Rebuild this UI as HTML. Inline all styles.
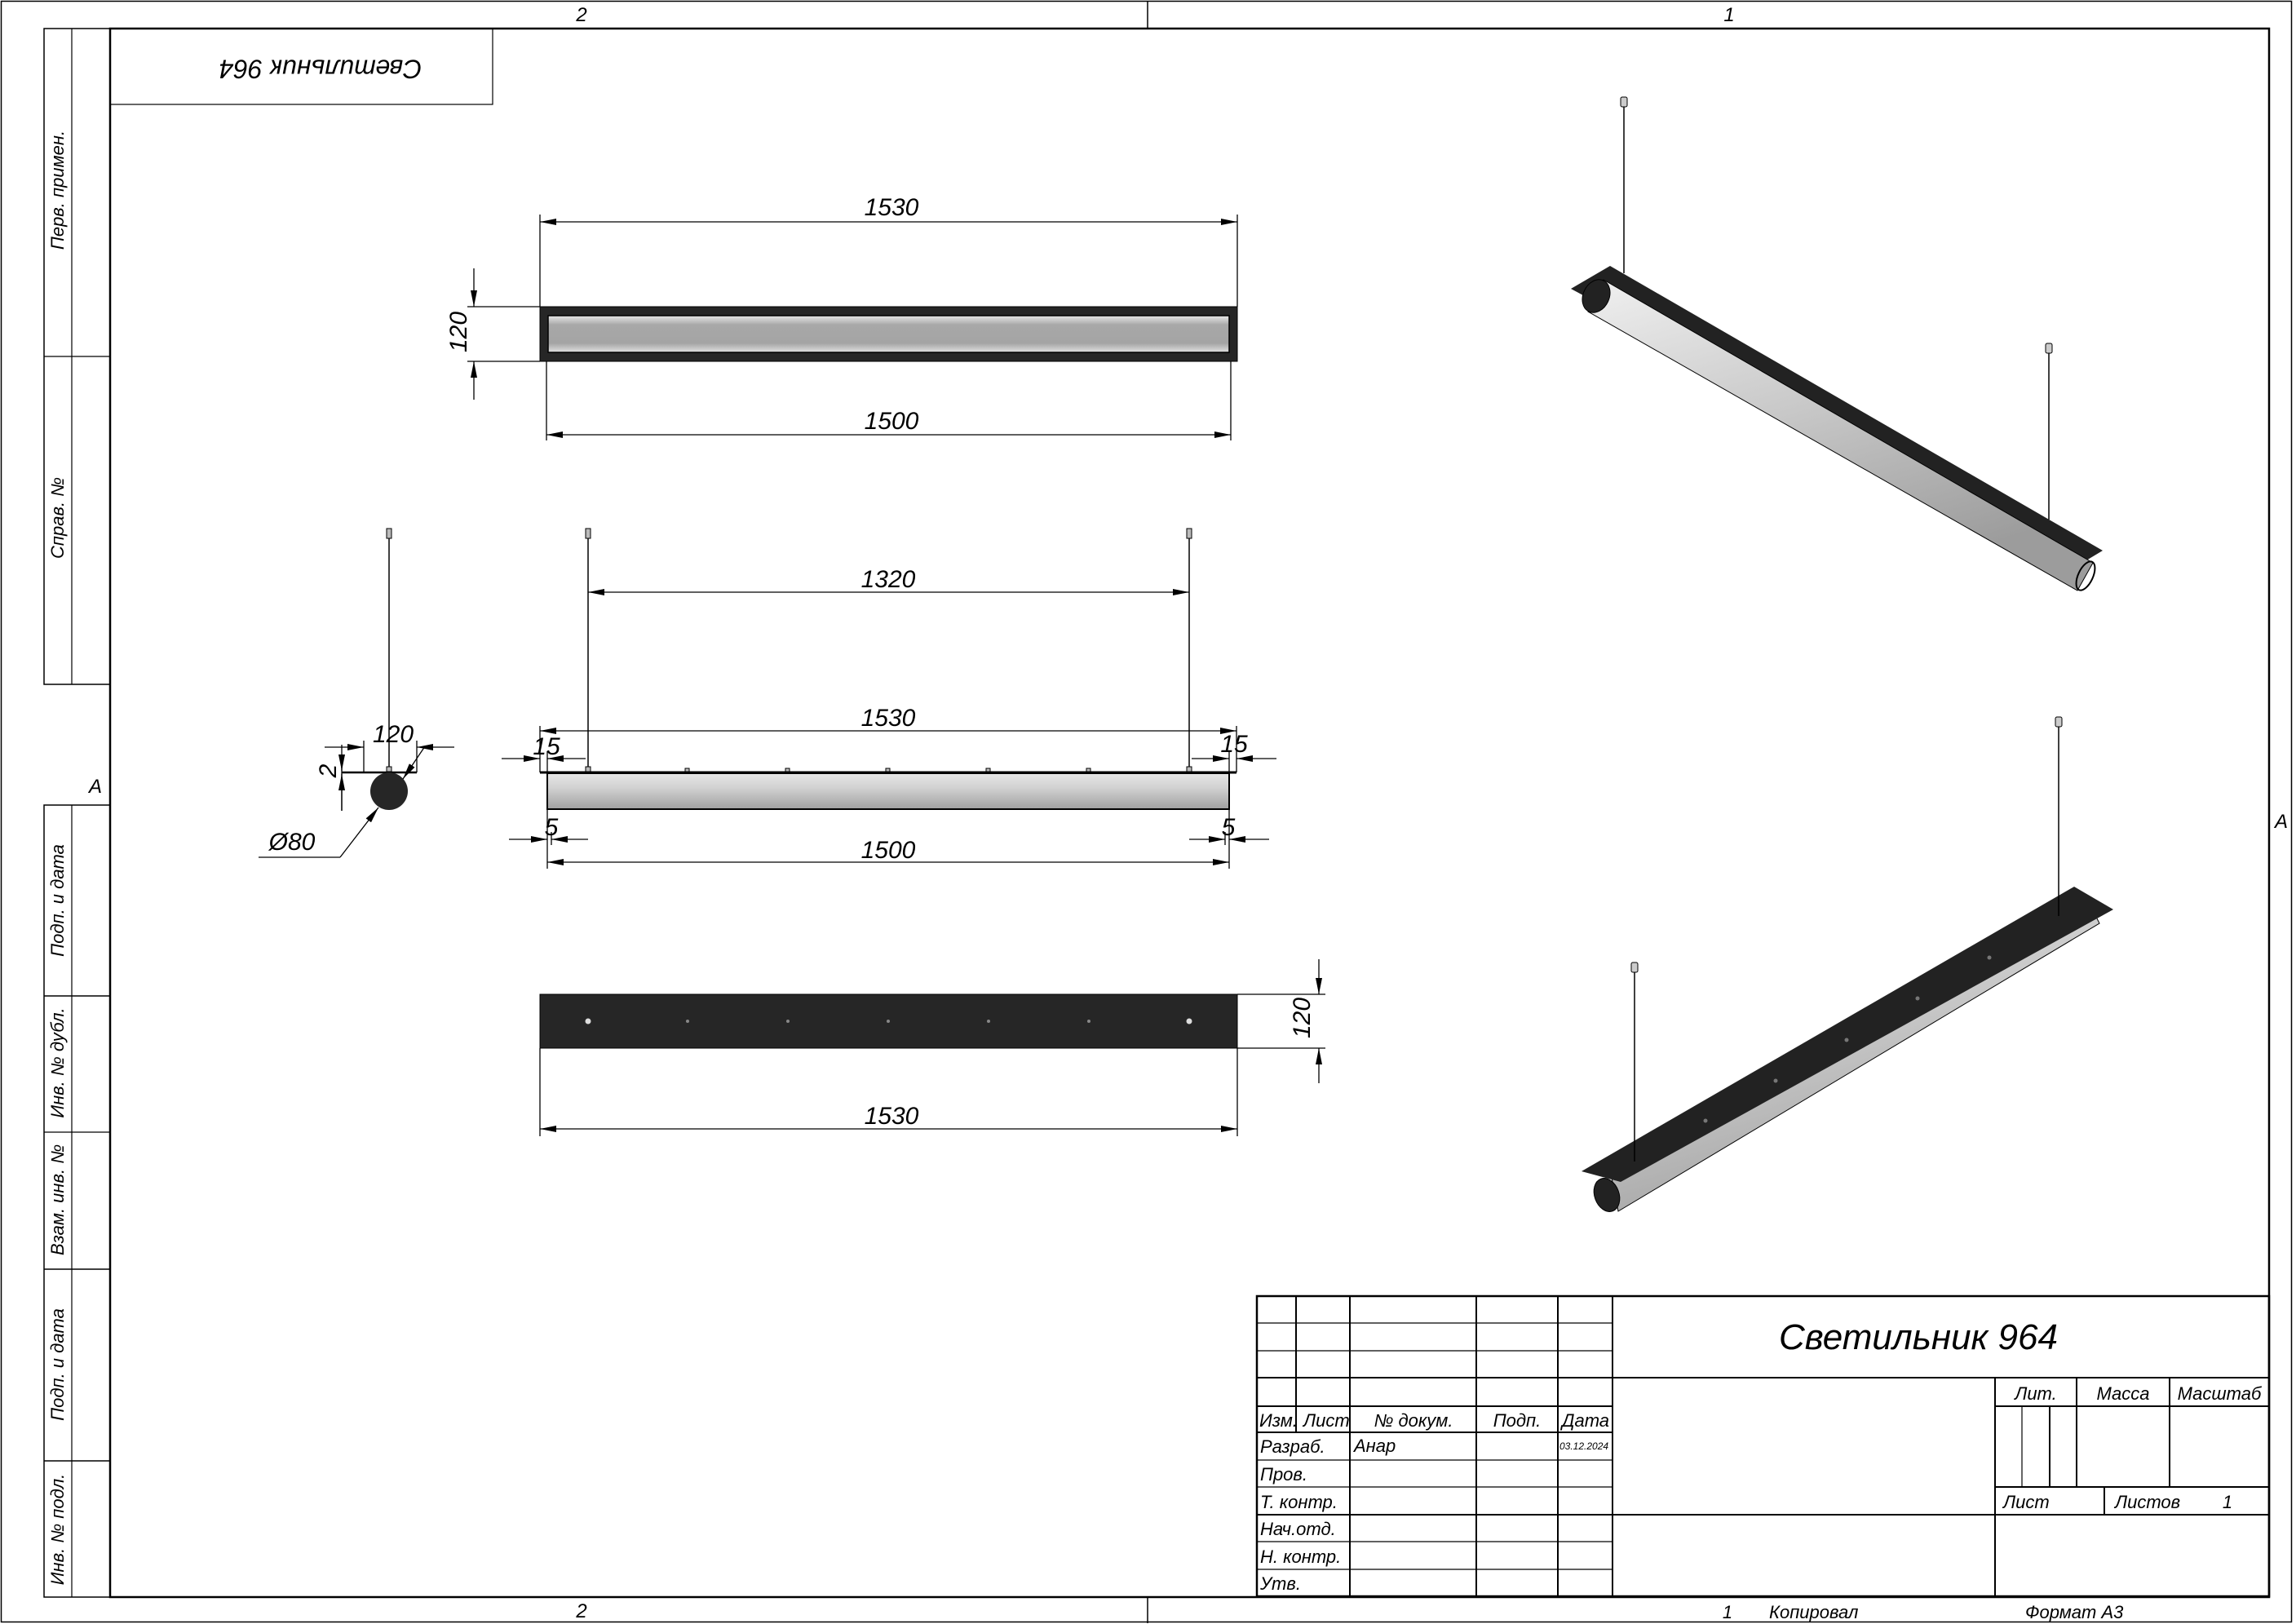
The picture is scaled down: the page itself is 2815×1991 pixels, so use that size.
<!DOCTYPE html>
<html><head><meta charset="utf-8"><style>
html,body{margin:0;padding:0;background:#fff}
svg{display:block}
text{font-family:"Liberation Sans Narrow","Liberation Sans","Noto Sans CJK SC",sans-serif;font-style:italic;fill:#000}
</style></head><body>
<svg width="2815" height="1991" viewBox="0 0 2815 1991" xmlns="http://www.w3.org/2000/svg">
<defs>
<marker id="a" viewBox="0 0 20 8" refX="20" refY="4" markerWidth="20" markerHeight="8" markerUnits="userSpaceOnUse" orient="auto-start-reverse"><path d="M0,0 L20,4 L0,8 z" fill="#000"/></marker>
<linearGradient id="g1" x1="0" y1="0" x2="0" y2="1"><stop offset="0" stop-color="#e8e8e8"/><stop offset="0.25" stop-color="#a8a8a8"/><stop offset="0.75" stop-color="#a4a4a4"/><stop offset="1" stop-color="#e0e0e0"/></linearGradient>
<linearGradient id="g2" x1="0" y1="0" x2="0" y2="1"><stop offset="0" stop-color="#e6e6e6"/><stop offset="0.4" stop-color="#d2d2d2"/><stop offset="1" stop-color="#a0a0a0"/></linearGradient>
<linearGradient id="g3" x1="0" y1="0" x2="0.5" y2="1"><stop offset="0" stop-color="#f0f0f0"/><stop offset="0.5" stop-color="#c8c8c8"/><stop offset="1" stop-color="#9c9c9c"/></linearGradient>
</defs>
<g fill="none" stroke="#000">
<rect x="1.5" y="1.5" width="2808" height="1987" stroke-width="1.5"/>
<rect x="135" y="35" width="2647" height="1923" stroke-width="2.5"/>
<line x1="1407" y1="1" x2="1407" y2="35" stroke-width="1.5"/>
<line x1="1407" y1="1958" x2="1407" y2="1990" stroke-width="1.5"/>
<rect x="54" y="35" width="81" height="804" stroke-width="1.5"/>
<line x1="88" y1="35" x2="88" y2="839" stroke-width="1.2"/>
<line x1="54" y1="437" x2="135" y2="437" stroke-width="1.2"/>
<rect x="54" y="987" width="81" height="971" stroke-width="1.5"/>
<line x1="88" y1="987" x2="88" y2="1958" stroke-width="1.2"/>
<line x1="54" y1="1221" x2="135" y2="1221" stroke-width="1.5"/>
<line x1="54" y1="1388" x2="135" y2="1388" stroke-width="1.2"/>
<line x1="54" y1="1556" x2="135" y2="1556" stroke-width="1.5"/>
<line x1="54" y1="1791" x2="135" y2="1791" stroke-width="1.5"/>
<rect x="135" y="35" width="469" height="93" stroke-width="1.2"/>
</g>
<g font-size="24">
<text x="713" y="26" text-anchor="middle">2</text>
<text x="2120" y="26" text-anchor="middle">1</text>
<text x="713" y="1983" text-anchor="middle">2</text>
<text x="2797" y="1015" text-anchor="middle">A</text>
<text x="117" y="972" text-anchor="middle">A</text>
</g>
<g font-size="22" text-anchor="middle">
<text transform="translate(78,233) rotate(-90)">Перв. примен.</text>
<text transform="translate(78,635) rotate(-90)">Справ. №</text>
<text transform="translate(78,1104) rotate(-90)">Подп. и дата</text>
<text transform="translate(78,1303) rotate(-90)">Инв. № дубл.</text>
<text transform="translate(78,1471) rotate(-90)">Взам. инв. №</text>
<text transform="translate(78,1673) rotate(-90)">Подп. и дата</text>
<text transform="translate(78,1875) rotate(-90)">Инв. № подл.</text>
</g>
<text transform="translate(393,82) rotate(180)" font-size="32" text-anchor="middle" dominant-baseline="middle">Светильник 964</text>

<!-- TOP VIEW -->
<rect x="662" y="376" width="855" height="67" fill="#262626" stroke="#000"/>
<rect x="672" y="387" width="835" height="45" fill="url(#g1)" stroke="#000" stroke-width="1.5"/>
<g stroke="#000" stroke-width="1.3" fill="none">
<line x1="662" y1="263" x2="662" y2="376"/><line x1="1517" y1="263" x2="1517" y2="376"/>
<line x1="662" y1="272" x2="1517" y2="272" marker-start="url(#a)" marker-end="url(#a)"/>
<line x1="670" y1="443" x2="670" y2="540"/><line x1="1509" y1="443" x2="1509" y2="540"/>
<line x1="670" y1="533" x2="1509" y2="533" marker-start="url(#a)" marker-end="url(#a)"/>
<line x1="573" y1="376" x2="662" y2="376"/><line x1="573" y1="443" x2="662" y2="443"/>
<line x1="581" y1="329" x2="581" y2="376" marker-end="url(#a)"/>
<line x1="581" y1="490" x2="581" y2="443" marker-end="url(#a)"/>
</g>
<g font-size="30" text-anchor="middle">
<text x="1093" y="264">1530</text>
<text x="1093" y="526">1500</text>
<text transform="translate(564,407) rotate(-90)" dominant-baseline="middle">120</text>
</g>

<!-- SIDE VIEW -->
<g stroke="#000" stroke-width="1.5">
<line x1="721" y1="660" x2="721" y2="946"/><line x1="1458" y1="660" x2="1458" y2="946"/>
<line x1="477" y1="660" x2="477" y2="945"/>
</g>
<g fill="#bbb" stroke="#000" stroke-width="1">
<rect x="718" y="648" width="6" height="12"/><rect x="1455" y="648" width="6" height="12"/><rect x="474" y="648" width="6" height="12"/>
<rect x="718" y="940" width="6" height="6"/><rect x="1455" y="940" width="6" height="6"/><rect x="474" y="940" width="6" height="6"/>
<rect x="840" y="942" width="5" height="4"/><rect x="963" y="942" width="5" height="4"/><rect x="1086" y="942" width="5" height="4"/><rect x="1209" y="942" width="5" height="4"/><rect x="1332" y="942" width="5" height="4"/>
</g>
<rect x="671" y="948" width="836" height="44" fill="url(#g2)" stroke="#000" stroke-width="2"/>
<line x1="662" y1="947" x2="1516" y2="947" stroke="#000" stroke-width="3"/>
<g stroke="#000" stroke-width="1.3" fill="none">
<line x1="721" y1="726" x2="1458" y2="726" marker-start="url(#a)" marker-end="url(#a)"/>
<line x1="662" y1="890" x2="662" y2="947"/><line x1="1516" y1="890" x2="1516" y2="947"/>
<line x1="662" y1="896" x2="1516" y2="896" marker-start="url(#a)" marker-end="url(#a)"/>
<line x1="671" y1="921" x2="671" y2="947"/><line x1="1507" y1="921" x2="1507" y2="947"/>
<line x1="615" y1="930" x2="662" y2="930" marker-end="url(#a)"/>
<line x1="718" y1="930" x2="671" y2="930" marker-end="url(#a)"/>
<line x1="1461" y1="930" x2="1507" y2="930" marker-end="url(#a)"/>
<line x1="1565" y1="930" x2="1516" y2="930" marker-end="url(#a)"/>
<line x1="671" y1="992" x2="671" y2="1065"/><line x1="1507" y1="992" x2="1507" y2="1065"/>
<line x1="676" y1="1020" x2="676" y2="1036"/><line x1="1502" y1="1020" x2="1502" y2="1036"/>
<line x1="624" y1="1029" x2="671" y2="1029" marker-end="url(#a)"/>
<line x1="721" y1="1029" x2="676" y2="1029" marker-end="url(#a)"/>
<line x1="1458" y1="1029" x2="1502" y2="1029" marker-end="url(#a)"/>
<line x1="1556" y1="1029" x2="1507" y2="1029" marker-end="url(#a)"/>
<line x1="671" y1="1057" x2="1507" y2="1057" marker-start="url(#a)" marker-end="url(#a)"/>
</g>
<g font-size="30" text-anchor="middle">
<text x="1089" y="720">1320</text>
<text x="1089" y="890">1530</text>
<text x="670" y="925">15</text>
<text x="1513" y="922">15</text>
<text x="676" y="1024">5</text>
<text x="1506" y="1024">5</text>
<text x="1089" y="1052">1500</text>
</g>

<!-- END VIEW -->
<line x1="419" y1="947" x2="511" y2="947" stroke="#000" stroke-width="2.5"/>
<circle cx="477" cy="970" r="23" fill="#262626"/>
<g stroke="#000" stroke-width="1.3" fill="none">
<line x1="446" y1="908" x2="446" y2="947"/><line x1="511" y1="908" x2="511" y2="947"/>
<line x1="398" y1="916" x2="446" y2="916" marker-end="url(#a)"/>
<line x1="557" y1="916" x2="511" y2="916" marker-end="url(#a)"/>
<line x1="419" y1="940" x2="419" y2="994"/>
<line x1="419" y1="913" x2="419" y2="945" marker-end="url(#a)"/>
<line x1="419" y1="994" x2="419" y2="949" marker-end="url(#a)"/>
<line x1="521" y1="915" x2="494" y2="955" marker-end="url(#a)"/>
<line x1="317" y1="1051" x2="417" y2="1051"/>
<line x1="417" y1="1051" x2="464" y2="990" marker-end="url(#a)"/>
</g>
<g font-size="30" text-anchor="middle">
<text x="482" y="910">120</text>
<text transform="translate(404,945) rotate(-90)" dominant-baseline="middle">2</text>
<text x="358" y="1042">Ø80</text>
</g>

<!-- BOTTOM VIEW -->
<rect x="662" y="1219" width="855" height="66" fill="#262626" stroke="#000"/>
<g fill="#ddd"><circle cx="721" cy="1252" r="3.5"/><circle cx="1458" cy="1252" r="3.5"/>
<circle cx="843" cy="1252" r="2" fill="#888"/><circle cx="966" cy="1252" r="2" fill="#888"/><circle cx="1089" cy="1252" r="2" fill="#888"/><circle cx="1212" cy="1252" r="2" fill="#888"/><circle cx="1335" cy="1252" r="2" fill="#888"/></g>
<g stroke="#000" stroke-width="1.3" fill="none">
<line x1="1517" y1="1219" x2="1625" y2="1219"/><line x1="1517" y1="1285" x2="1625" y2="1285"/>
<line x1="1617" y1="1176" x2="1617" y2="1219" marker-end="url(#a)"/>
<line x1="1617" y1="1328" x2="1617" y2="1285" marker-end="url(#a)"/>
<line x1="662" y1="1285" x2="662" y2="1393"/><line x1="1517" y1="1285" x2="1517" y2="1393"/>
<line x1="662" y1="1384" x2="1517" y2="1384" marker-start="url(#a)" marker-end="url(#a)"/>
</g>
<g font-size="30" text-anchor="middle">
<text transform="translate(1598,1248) rotate(-90)" dominant-baseline="middle">120</text>
<text x="1093" y="1378">1530</text>
</g>

<!-- ISO 1 -->
<g stroke="#000" stroke-width="1.5"><line x1="1991" y1="130" x2="1991" y2="335"/><line x1="2512" y1="432" x2="2512" y2="637"/></g>
<g fill="#ccc" stroke="#000" stroke-width="1"><rect x="1987" y="119" width="8" height="12" rx="2"/><rect x="2508" y="421" width="8" height="12" rx="2"/></g>
<polygon points="1926,354 1974,326 2578,675 2553,690" fill="#222"/>
<polygon points="1966,343 2566,690 2547,724 1947,382" fill="url(#g3)" stroke="#000" stroke-width="1"/>
<ellipse cx="1957" cy="363" rx="16" ry="21" transform="rotate(25 1957 363)" fill="#222" stroke="#000"/>
<ellipse cx="2557" cy="706" rx="9" ry="19" transform="rotate(25 2557 706)" fill="none" stroke="#000" stroke-width="2"/>

<!-- ISO 2 -->
<polygon points="1976,1444 2568,1120 2574,1132 1984,1485" fill="url(#g3)" stroke="#000" stroke-width="1"/>
<ellipse cx="1970" cy="1465" rx="15" ry="21" transform="rotate(-20 1970 1465)" fill="#222" stroke="#000"/>
<polygon points="1939,1436 2543,1087 2591,1115 1987,1449" fill="#222"/>
<g stroke="#000" stroke-width="1.5"><line x1="2004" y1="1190" x2="2004" y2="1424"/><line x1="2524" y1="888" x2="2524" y2="1123"/></g>
<g fill="#ccc" stroke="#000" stroke-width="1"><rect x="2000" y="1180" width="8" height="12" rx="2"/><rect x="2520" y="879" width="8" height="12" rx="2"/></g>
<g fill="#777"><circle cx="2091" cy="1374" r="2.5"/><circle cx="2177" cy="1325" r="2.5"/><circle cx="2264" cy="1275" r="2.5"/><circle cx="2351" cy="1224" r="2.5"/><circle cx="2439" cy="1174" r="2.5"/></g>

<!-- TITLE BLOCK -->
<g stroke="#000" fill="none">
<rect x="1541" y="1589" width="1241" height="368" stroke-width="2.5"/>
<g stroke-width="2">
<line x1="1589" y1="1589" x2="1589" y2="1756"/>
<line x1="1655" y1="1589" x2="1655" y2="1957"/>
<line x1="1810" y1="1589" x2="1810" y2="1957"/>
<line x1="1910" y1="1589" x2="1910" y2="1957"/>
<line x1="1977" y1="1589" x2="1977" y2="1957"/>
<line x1="1541" y1="1689" x2="2782" y2="1689"/>
<line x1="1541" y1="1724" x2="1977" y2="1724"/>
<line x1="1541" y1="1756" x2="1977" y2="1756"/>
<line x1="1541" y1="1857" x2="2782" y2="1857"/>
<line x1="2446" y1="1689" x2="2446" y2="1957"/>
<line x1="2446" y1="1724" x2="2782" y2="1724"/>
<line x1="2446" y1="1823" x2="2782" y2="1823"/>
<line x1="2546" y1="1689" x2="2546" y2="1823"/>
<line x1="2660" y1="1689" x2="2660" y2="1823"/>
<line x1="2513" y1="1724" x2="2513" y2="1823"/>
<line x1="2580" y1="1823" x2="2580" y2="1857"/>
</g>
<g stroke-width="1.2">
<line x1="1541" y1="1622" x2="1977" y2="1622"/>
<line x1="1541" y1="1656" x2="1977" y2="1656"/>
<line x1="1541" y1="1790" x2="1977" y2="1790"/>
<line x1="1541" y1="1823" x2="1977" y2="1823"/>
<line x1="1541" y1="1890" x2="1977" y2="1890"/>
<line x1="1541" y1="1924" x2="1977" y2="1924"/>
<line x1="2479" y1="1724" x2="2479" y2="1823"/>
</g>
</g>
<text x="2352" y="1654" font-size="44" text-anchor="middle">Светильник 964</text>
<g font-size="22">
<text x="1544" y="1749">Изм.</text>
<text x="1598" y="1749">Лист</text>
<text x="1733" y="1749" text-anchor="middle">№ докум.</text>
<text x="1860" y="1749" text-anchor="middle">Подп.</text>
<text x="1944" y="1749" text-anchor="middle">Дата</text>
<text x="1545" y="1781">Разраб.</text>
<text x="1660" y="1780">Анар</text>
<text x="1545" y="1815">Пров.</text>
<text x="1545" y="1849">Т. контр.</text>
<text x="1545" y="1882">Нач.отд.</text>
<text x="1545" y="1916">Н. контр.</text>
<text x="1545" y="1949">Утв.</text>
<text x="2496" y="1716" text-anchor="middle">Лит.</text>
<text x="2603" y="1716" text-anchor="middle">Масса</text>
<text x="2721" y="1716" text-anchor="middle">Масштаб</text>
<text x="2456" y="1849">Лист</text>
<text x="2593" y="1849">Листов</text>
<text x="2731" y="1849" text-anchor="middle">1</text>
<text x="2118" y="1984" text-anchor="middle">1</text>
<text x="2169" y="1984">Копировал</text>
<text x="2483" y="1984">Формат А3</text>
</g>
<text x="1912" y="1777" font-size="12">03.12.2024</text>
</svg>
</body></html>
